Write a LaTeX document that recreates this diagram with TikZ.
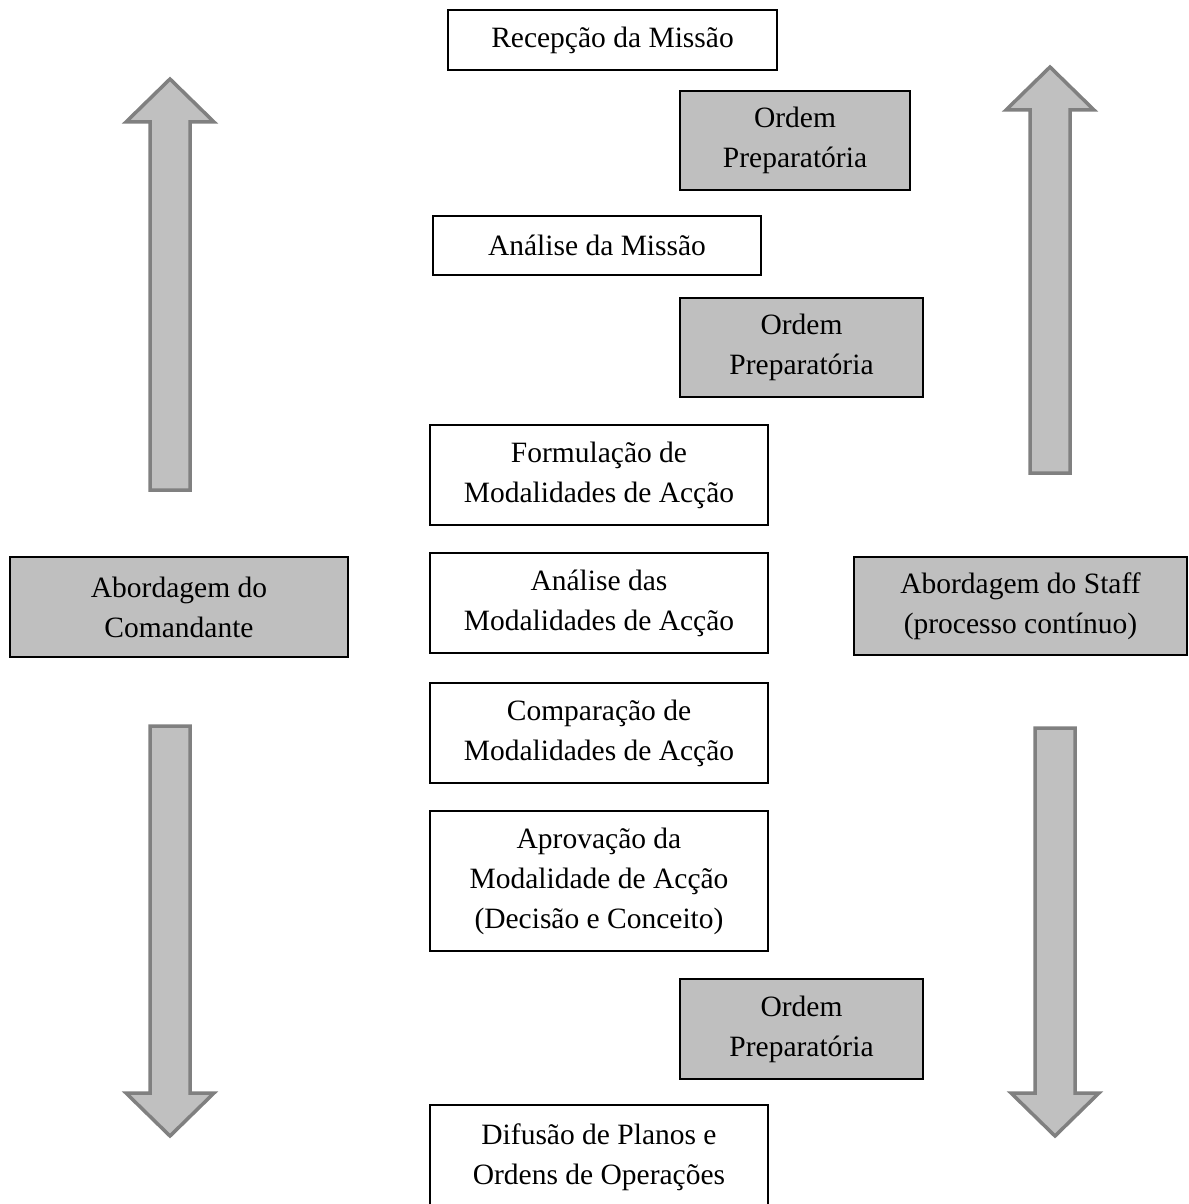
\documentclass[tikz,border=0pt]{standalone}
\usepackage{fontspec}
\setmainfont{Liberation Serif}
\begin{document}
\begin{tikzpicture}[x=1pt,y=-1pt,
  box/.style={draw=black,line width=1.5pt,fill=white,align=center,inner sep=0pt,font=\fontsize{29.5}{40}\selectfont},
  gbox/.style={box,fill=boxgray},
  bigarrow/.style={draw=arrowedge,fill=arrowfill,line width=3.5pt,line join=miter}]
\definecolor{boxgray}{HTML}{BFBFBF}
\definecolor{arrowfill}{HTML}{C0C0C0}
\definecolor{arrowedge}{HTML}{808080}
\useasboundingbox (0,0) rectangle (1188,1204);
% helper: box from corners
\newcommand{\mybox}[6]{\node[#1,minimum width=#4-#2,minimum height=#5-#3] (#6) at ({(#2+#4)/2},{(#3+#5)/2})}
\mybox{box}{448}{10}{777}{70}{rec} {Recepção da Missão};
\mybox{gbox}{680}{91}{910}{190}{op1} {Ordem\\Preparatória};
\mybox{box}{433}{216}{761}{275}{ana} {Análise da Missão};
\mybox{gbox}{680}{298}{923}{397}{op2} {Ordem\\Preparatória};
\mybox{box}{430}{425}{768}{525}{form} {Formulação de\\Modalidades de Acção};
\mybox{box}{430}{553}{768}{653}{anal} {Análise das\\Modalidades de Acção};
\mybox{box}{430}{683}{768}{783}{comp} {Comparação de\\Modalidades de Acção};
\mybox{box}{430}{811}{768}{951}{apro} {Aprovação da\\Modalidade de Acção\\(Decisão e Conceito)};
\mybox{gbox}{680}{979}{923}{1079}{op3} {Ordem\\Preparatória};
\mybox{box}{430}{1105}{768}{1210}{dif} {Difusão de Planos e\\Ordens de Operações};
\mybox{gbox}{10}{557}{348}{657}{cmd} {Abordagem do\\Comandante};
\mybox{gbox}{854}{557}{1187}{655}{staff} {Abordagem do Staff\\(processo contínuo)};
% big arrows
\draw[bigarrow] (150,490) -- (150,122) -- (126,122) -- (170,79) -- (214,122) -- (190,122) -- (190,490) -- cycle;
\draw[bigarrow] (1030,473) -- (1030,110) -- (1006,110) -- (1050,67) -- (1094,110) -- (1070,110) -- (1070,473) -- cycle;
\draw[bigarrow] (150,726) -- (150,1093) -- (126,1093) -- (170,1136) -- (214,1093) -- (190,1093) -- (190,726) -- cycle;
\draw[bigarrow] (1035,728) -- (1035,1093) -- (1011,1093) -- (1055,1136) -- (1099,1093) -- (1075,1093) -- (1075,728) -- cycle;
\end{tikzpicture}
\end{document}
